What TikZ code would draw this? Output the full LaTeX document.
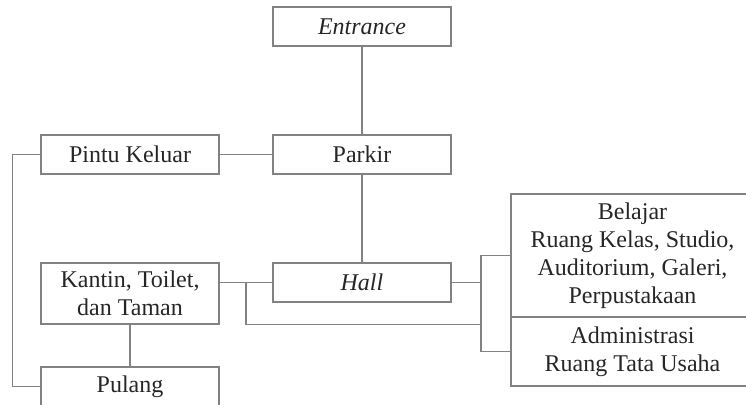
\documentclass[tikz,border=0pt]{standalone}
\usepackage{fontspec}
\setmainfont{Liberation Serif}
\usetikzlibrary{calc}
\definecolor{linegray}{RGB}{130,130,130}

\begin{document}
\begin{tikzpicture}[x=0.5pt, y=-0.5pt,
  box/.style={draw=linegray, line width=0.6pt, text=black!85, minimum width=89pt,
    minimum height=19.5pt, inner sep=0pt, align=center, font=\fontsize{12}{14}\selectfont},
  link/.style={draw=linegray, line width=0.6pt}]
\useasboundingbox (0,0) rectangle (746,405);
\clip (0,0) rectangle (746,405);

% Entrance, parking and hall
\node[box] (entrance) at (362,26.5) {\textit{Entrance}};
\node[box] (parkir) at (362,154.5) {Parkir};
\node[box] (keluar) at (130,154.5) {Pintu Keluar};
\node[box] (hall) at (362,282.5) {\textit{Hall}};

% Left side
\node[box, minimum height=30.5pt] (kantin) at (130,293.5) {Kantin, Toilet,\\dan Taman};
\node[box] (pulang) at (130,386.5) {Pulang};

% Right side
\node[box, minimum width=121.5pt, minimum height=61.5pt] (belajar) at (632.5,255.5)
  {Belajar\\Ruang Kelas, Studio,\\Auditorium, Galeri,\\Perpustakaan};
\node[box, minimum width=121.5pt, minimum height=34.5pt] (admin) at (632.5,351.5)
  {Administrasi\\Ruang Tata Usaha};

\coordinate (split) at ($(hall.west -| kantin.east)!0.5!(hall.west)$);
\coordinate (bus) at ($(hall.east)!0.5!(hall.east -| belajar.west)$);

% Connections
\draw[link] (entrance) -- (parkir);
\draw[link] (parkir) -- (hall);
\draw[link] (keluar) -- (parkir);
\draw[link] (keluar.west) -- ++(-28,0) |- (pulang.west);
\draw[link] (kantin) -- (pulang);
\draw[link] (hall.west) -- (hall.west -| kantin.east);
\draw[link] (split) |- (kantin.south -| bus);
\draw[link] (hall.east) -- (bus);
\draw[link] (belajar.west) -- (belajar.west -| bus) -- (admin.west -| bus) -- (admin.west);
\end{tikzpicture}
\end{document}
